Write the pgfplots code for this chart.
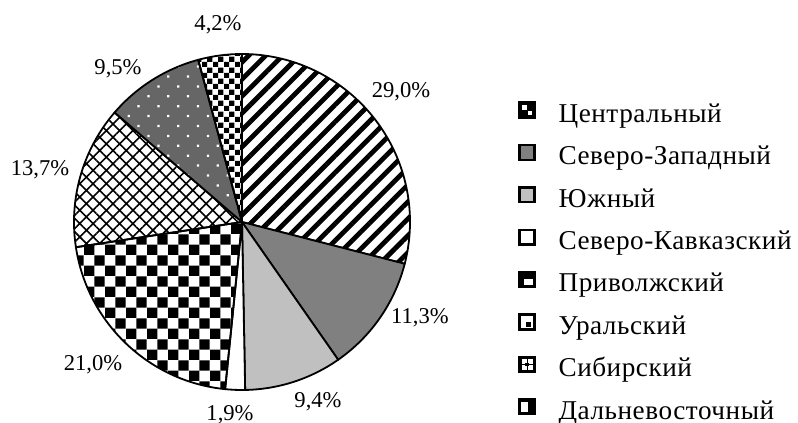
\documentclass[border=0pt]{standalone}
\usepackage{fontspec}
\setmainfont{Liberation Serif}
\usepackage{pgfplots}
\pgfplotsset{compat=1.18}
\usepackage{pgfplotstable}
\usetikzlibrary{patterns,patterns.meta}

\newcommand\labfont{\fontsize{11.3}{13}\selectfont}
\newcommand\legfont{\fontsize{13.6}{15}\selectfont\addfontfeatures{LetterSpace=2}}

\tikzdeclarepattern{name=bigcheck, type=uncolored,
  bounding box={(0pt,0pt) and (10.66pt,10.66pt)}, tile size={(10.66pt,10.66pt)},
  code={\fill (0pt,0pt) rectangle (5.33pt,5.33pt); \fill (5.33pt,5.33pt) rectangle (10.66pt,10.66pt);}}
\tikzdeclarepattern{name=smallcheck, type=uncolored,
  bounding box={(0pt,0pt) and (5.33pt,5.33pt)}, tile size={(5.33pt,5.33pt)},
  code={\fill (0pt,0pt) rectangle (2.66pt,2.66pt); \fill (2.66pt,2.66pt) rectangle (5.33pt,5.33pt);}}

\definecolor{sz}{HTML}{808080}
\definecolor{yu}{HTML}{C0C0C0}
\definecolor{sib}{HTML}{666666}

\tikzset{
  slice0/.style={pattern={Lines[angle=45,distance=6pt,line width=2.4pt]}},
  slice1/.style={fill=sz},
  slice2/.style={fill=yu},
  slice3/.style={fill=white},
  slice4/.style={pattern=bigcheck},
  slice5/.style={pattern={Hatch[angle=45,distance=4.7pt,line width=0.8pt]}},
  slice6/.style={fill=sib, postaction={pattern={Dots[angle=45,distance=7pt,radius=0.8pt]}, pattern color=white}},
  slice7/.style={pattern=smallcheck},
  leg/.style={line width=1.2pt},
}

% share (%), label position (px, y up)
\pgfplotstableread{
share lx ly
29.0 401 331
11.3 420 105
9.4 318 21
1.9 230 8
21.0 93 58
13.7 40 253
9.5 118 354
4.2 218 398
}\piedata

\begin{document}
\begin{tikzpicture}
\begin{axis}[
  x=0.5pt, y=0.5pt, xmin=0, xmax=798, ymin=0, ymax=423,
  enlargelimits=false, hide axis, scale only axis, clip=false,
  at={(0,0)}, anchor=south west,
  /pgf/number format/assume math mode=true,
  legend style={at={(axis cs:518,322)}, anchor=north west, draw=none, fill=none,
    inner sep=0pt, row sep=8.4pt, column sep=11.5pt, font=\legfont,
    nodes={inner sep=0pt, text height=8.7pt, text depth=2.3pt}},
  legend cell align=left,
]
\pgfplotsextra{
  \gdef\angstart{90}
  \foreach \i in {0,...,7}{
    \pgfplotstablegetelem{\i}{share}\of\piedata
    \pgfmathsetmacro\angend{\angstart-3.6*\pgfplotsretval}
    \fill[slice\i] (axis cs:242,201) -- ++(\angstart:84pt) arc[start angle=\angstart, end angle=\angend, radius=84pt] -- cycle;
    \draw[line width=0.9pt, line join=round] (axis cs:242,201) -- ++(\angstart:84pt) arc[start angle=\angstart, end angle=\angend, radius=84pt] -- cycle;
    \xdef\angstart{\angend}
  }
}
\addplot[forget plot, draw=none, mark=none, point meta=explicit,
  nodes near coords={\pgfmathprintnumber[fixed,fixed zerofill,precision=1,use comma]{\pgfplotspointmeta}\%},
  every node near coord/.append style={anchor=center, font=\labfont, inner sep=0pt}]
  table[x=lx, y=ly, meta=share] {\piedata};

\addlegendimage{legend image code/.code={
  \fill[black] (0pt,-0.7pt) rectangle (7.4pt,6.7pt);
  \fill[white] (1.5pt,3.4pt) rectangle (3.5pt,5.2pt);
  \fill[white] (4.2pt,0.7pt) rectangle (5.9pt,2.4pt);
  \draw[leg] (0pt,-0.7pt) rectangle (7.4pt,6.7pt);}}
\addlegendentry{Центральный}
\addlegendimage{legend image code/.code={\draw[leg, fill=sz] (0pt,-0.7pt) rectangle (7.4pt,6.7pt);}}
\addlegendentry{Северо-Западный}
\addlegendimage{legend image code/.code={\draw[leg, fill=yu] (0pt,-0.7pt) rectangle (7.4pt,6.7pt);}}
\addlegendentry{Южный}
\addlegendimage{legend image code/.code={\draw[leg, fill=white] (0pt,-0.7pt) rectangle (7.4pt,6.7pt);}}
\addlegendentry{Северо-Кавказский}
\addlegendimage{legend image code/.code={
  \fill[black] (0pt,-0.7pt) rectangle (7.4pt,6.7pt);
  \fill[white] (2.5pt,0.6pt) rectangle (6.2pt,3.3pt);
  \draw[leg] (0pt,-0.7pt) rectangle (7.4pt,6.7pt);}}
\addlegendentry{Приволжский}
\addlegendimage{legend image code/.code={
  \fill[white] (0pt,-0.7pt) rectangle (7.4pt,6.7pt);
  \fill[black] (3.4pt,1.0pt) rectangle (5.3pt,2.9pt);
  \draw[leg] (0pt,-0.7pt) rectangle (7.4pt,6.7pt);}}
\addlegendentry{Уральский}
\addlegendimage{legend image code/.code={
  \fill[black] (0pt,-0.7pt) rectangle (7.4pt,6.7pt);
  \fill[white] (1.2pt,3.3pt) rectangle (3.2pt,5.3pt);
  \fill[white] (4.2pt,0.6pt) rectangle (6.2pt,2.6pt);
  \fill[white] (4.2pt,3.3pt) rectangle (6.2pt,5.3pt);
  \fill[white] (1.2pt,0.6pt) rectangle (3.2pt,2.6pt);
  \fill[black] (3pt,2.4pt) rectangle (4.4pt,3.5pt);
  \draw[leg] (0pt,-0.7pt) rectangle (7.4pt,6.7pt);}}
\addlegendentry{Сибирский}
\addlegendimage{legend image code/.code={
  \fill[black] (0pt,-0.7pt) rectangle (7.4pt,6.7pt);
  \fill[white] (1pt,0.8pt) rectangle (3.8pt,5.2pt);
  \draw[leg] (0pt,-0.7pt) rectangle (7.4pt,6.7pt);}}
\addlegendentry{Дальневосточный}
\end{axis}
\pgfresetboundingbox
\path[use as bounding box] (0,0) rectangle (399pt,211.5pt);
\end{tikzpicture}
\end{document}
